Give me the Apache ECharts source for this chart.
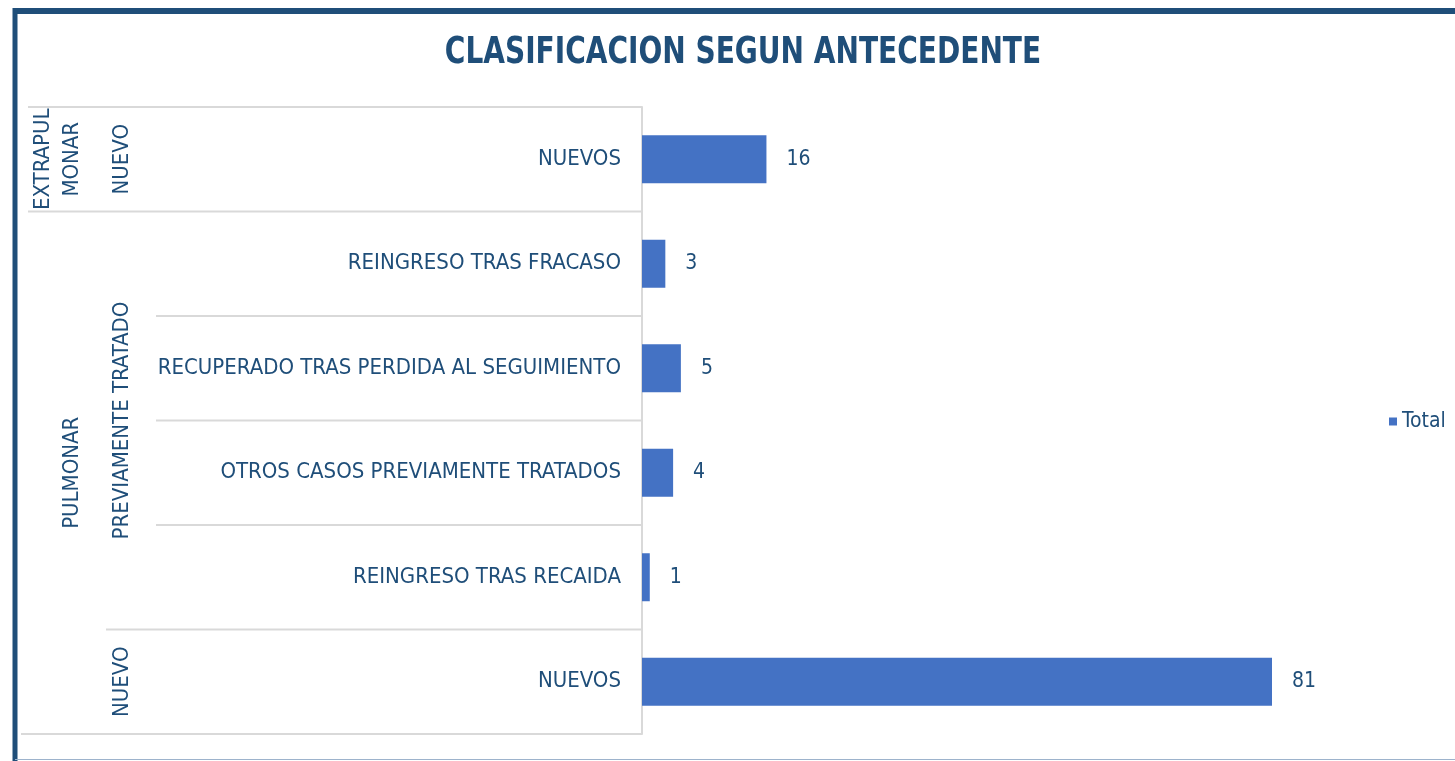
<!DOCTYPE html>
<html>
<head>
<meta charset="utf-8">
<title>Clasificacion segun antecedente</title>
<script src="https://cdn.jsdelivr.net/npm/echarts@6/dist/echarts.min.js"></script>
<style>
  html, body { margin: 0; padding: 0; background: #fff; }
  #chart { width: 1455px; height: 761px; }
</style>
</head>
<body>
<div id="chart"></div>
<script>
// chart data
const categories = ['NUEVOS', 'REINGRESO TRAS FRACASO', 'RECUPERADO TRAS PERDIDA AL SEGUIMIENTO', 'OTROS CASOS PREVIAMENTE TRATADOS', 'REINGRESO TRAS RECAIDA', 'NUEVOS'];
const values = [16, 3, 5, 4, 1, 81];
// second level groups (first / last category index)
const subGroupNames = ['NUEVO', 'PREVIAMENTE TRATADO', 'NUEVO'];
const subGroupFrom = [0, 1, 5];
const subGroupTo = [0, 4, 5];
// outer groups
const groupNames = ['EXTRAPUL\nMONAR', 'PULMONAR'];
const groupFrom = [0, 1];
const groupTo = [0, 5];

const FONT = "'Liberation Sans Narrow', 'Arial Narrow', 'DejaVu Sans Condensed', sans-serif";
const TEXT = '#1F4E79';
const BAR = '#4472C4';
const LINE = '#D9D9D9';

const chart = echarts.init(document.getElementById('chart'), null, { renderer: 'canvas' });

const option = {
  animation: false,
  backgroundColor: '#fff',
  legend: {
    data: ['Total'],
    left: 1384,
    top: 406,
    icon: 'rect',
    itemWidth: 8,
    itemHeight: 8,
    itemGap: 6,
    textStyle: { fontFamily: FONT, fontSize: 21, color: TEXT }
  },
  grid: { left: 642, right: 113, top: 107, bottom: 27, containLabel: false },
  xAxis: {
    type: 'value',
    min: 0,
    max: 90,
    show: false
  },
  yAxis: {
    type: 'category',
    inverse: true,
    data: categories,
    axisLine: { show: true, lineStyle: { color: LINE, width: 2 } },
    axisTick: { show: false },
    axisLabel: { margin: 21, fontFamily: FONT, fontSize: 22, color: TEXT }
  },
  series: [{
    name: 'Total',
    type: 'bar',
    data: values,
    barWidth: 48,
    itemStyle: { color: BAR },
    label: {
      show: true,
      position: 'right',
      distance: 20,
      fontFamily: FONT,
      fontSize: 21,
      color: TEXT
    }
  }]
};

chart.setOption(option);

// draw title, frame and the multi level category frame from the axis scale
function drawGroups() {
  const yOf = (i) => chart.convertToPixel({ yAxisIndex: 0 }, i);
  const half = (yOf(1) - yOf(0)) / 2;
  const right = chart.convertToPixel({ xAxisIndex: 0 }, 0);
  const elements = [];

  // title, squeezed to look like a narrow bold face
  elements.push({
    type: 'text', x: 743, y: 53, scaleX: 0.82,
    style: { text: 'CLASIFICACION SEGUN ANTECEDENTE', fontFamily: FONT, fontSize: 38, fontWeight: 'bold', fill: TEXT, align: 'center', verticalAlign: 'middle' }
  });

  // frame around the chart
  elements.push({ type: 'line', shape: { x1: 15, y1: 11, x2: 1455, y2: 11 }, style: { stroke: '#1F4E79', lineWidth: 6 } });
  elements.push({ type: 'line', shape: { x1: 15, y1: 8, x2: 15, y2: 761 }, style: { stroke: '#1F4E79', lineWidth: 5 } });
  elements.push({ type: 'line', shape: { x1: 15, y1: 759.5, x2: 1455, y2: 759.5 }, style: { stroke: '#9DB3CC', lineWidth: 1 } });

  // horizontal separators at each band boundary
  for (let i = 0; i <= categories.length; i++) {
    const y = yOf(0) - half + i * 2 * half;
    let x1 = 156;
    if (groupFrom.indexOf(i) >= 0) x1 = 28;
    else if (subGroupFrom.indexOf(i) >= 0) x1 = 106;
    if (i === categories.length) x1 = 21;
    elements.push({ type: 'line', shape: { x1: x1, y1: y, x2: right, y2: y }, style: { stroke: LINE, lineWidth: 2 } });
  }

  // second level labels
  subGroupNames.forEach((name, k) => {
    const y = (yOf(subGroupFrom[k]) + yOf(subGroupTo[k])) / 2;
    elements.push({
      type: 'text', x: 122, y: y, rotation: Math.PI / 2,
      style: { text: name, fontFamily: FONT, fontSize: 22, fill: TEXT, align: 'center', verticalAlign: 'middle' }
    });
  });

  // outer labels
  groupNames.forEach((name, k) => {
    const y = (yOf(groupFrom[k]) + yOf(groupTo[k])) / 2;
    const lines = name.split('\n').length;
    elements.push({
      type: 'text', x: 72 - (lines - 1) * 14.5, y: y, rotation: Math.PI / 2,
      style: { text: name, fontFamily: FONT, fontSize: 22, lineHeight: 29, fill: TEXT, align: 'center', verticalAlign: 'middle' }
    });
  });

  chart.setOption({ graphic: { elements: elements } });
}

drawGroups();
</script>
</body>
</html>
